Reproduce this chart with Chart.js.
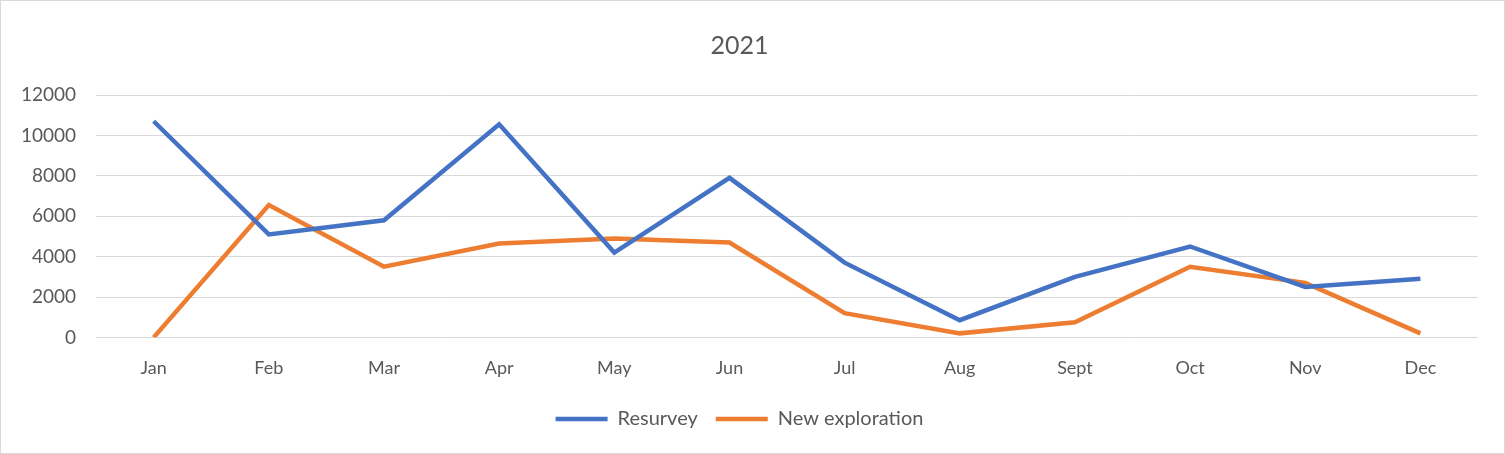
<!DOCTYPE html>
<html>
<head>
<meta charset="utf-8">
<script src="https://cdn.jsdelivr.net/npm/chart.js@4"></script>
<style>
    body { margin: 0; background: #fff; }
    #wrap { width: 1505px; height: 454px; box-sizing: border-box; border: 1px solid #d9d9d9; }
</style>
</head>
<body>
<div id="wrap"><canvas id="lineChart"></canvas></div>
<script>
const months = ['Jan', 'Feb', 'Mar', 'Apr', 'May', 'Jun', 'Jul', 'Aug', 'Sept', 'Oct', 'Nov', 'Dec'];
const resurvey = [10700, 5100, 5800, 10550, 4200, 7900, 3700, 850, 3000, 4500, 2500, 2900];
const newExploration = [0, 6550, 3500, 4650, 4900, 4700, 1200, 200, 750, 3500, 2700, 200];

LoadLineChart();

function LoadLineChart() {
    const ctx = document.getElementById('lineChart').getContext('2d');
    new Chart(ctx, {
        type: 'line',
        data: {
            labels: months,
            datasets: [{
                label: 'Resurvey',
                data: resurvey,
                borderColor: '#4472C4',
                backgroundColor: '#4472C4',
                borderWidth: 4.5,
                pointRadius: 0,
                tension: 0
            }, {
                label: 'New exploration',
                data: newExploration,
                borderColor: '#ED7D31',
                backgroundColor: '#ED7D31',
                borderWidth: 4.5,
                pointRadius: 0,
                tension: 0
            }]
        },
        options: {
            responsive: true,
            maintainAspectRatio: false,
            animation: false,
            layout: { padding: { left: 0, right: 26, top: 18, bottom: 14 } },
            plugins: {
                title: {
                    display: true,
                    text: '2021',
                    color: '#595959',
                    font: { family: 'Lato', size: 25, weight: 'normal' },
                    padding: { top: 12, bottom: 34 }
                },
                legend: {
                    position: 'bottom',
                    labels: {
                        color: '#595959',
                        font: { family: 'Lato', size: 20 },
                        usePointStyle: true,
                        pointStyleWidth: 52,
                        pointStyle: 'line',
                        padding: 18
                    }
                },
                tooltip: { enabled: false }
            },
            scales: {
                x: {
                    offset: true,
                    grid: { display: false },
                    border: { display: false },
                    ticks: { color: '#595959', font: { family: 'Lato', size: 18 }, padding: 12 }
                },
                y: {
                    min: 0,
                    max: 12000,
                    grid: { color: '#d9d9d9', lineWidth: 1, drawTicks: false },
                    border: { display: false },
                    ticks: {
                        stepSize: 2000,
                        color: '#595959',
                        font: { family: 'Lato', size: 19 },
                        padding: 20,
                        callback: function (value) { return String(value); }
                    }
                }
            }
        }
    });
}
</script>
</body>
</html>
